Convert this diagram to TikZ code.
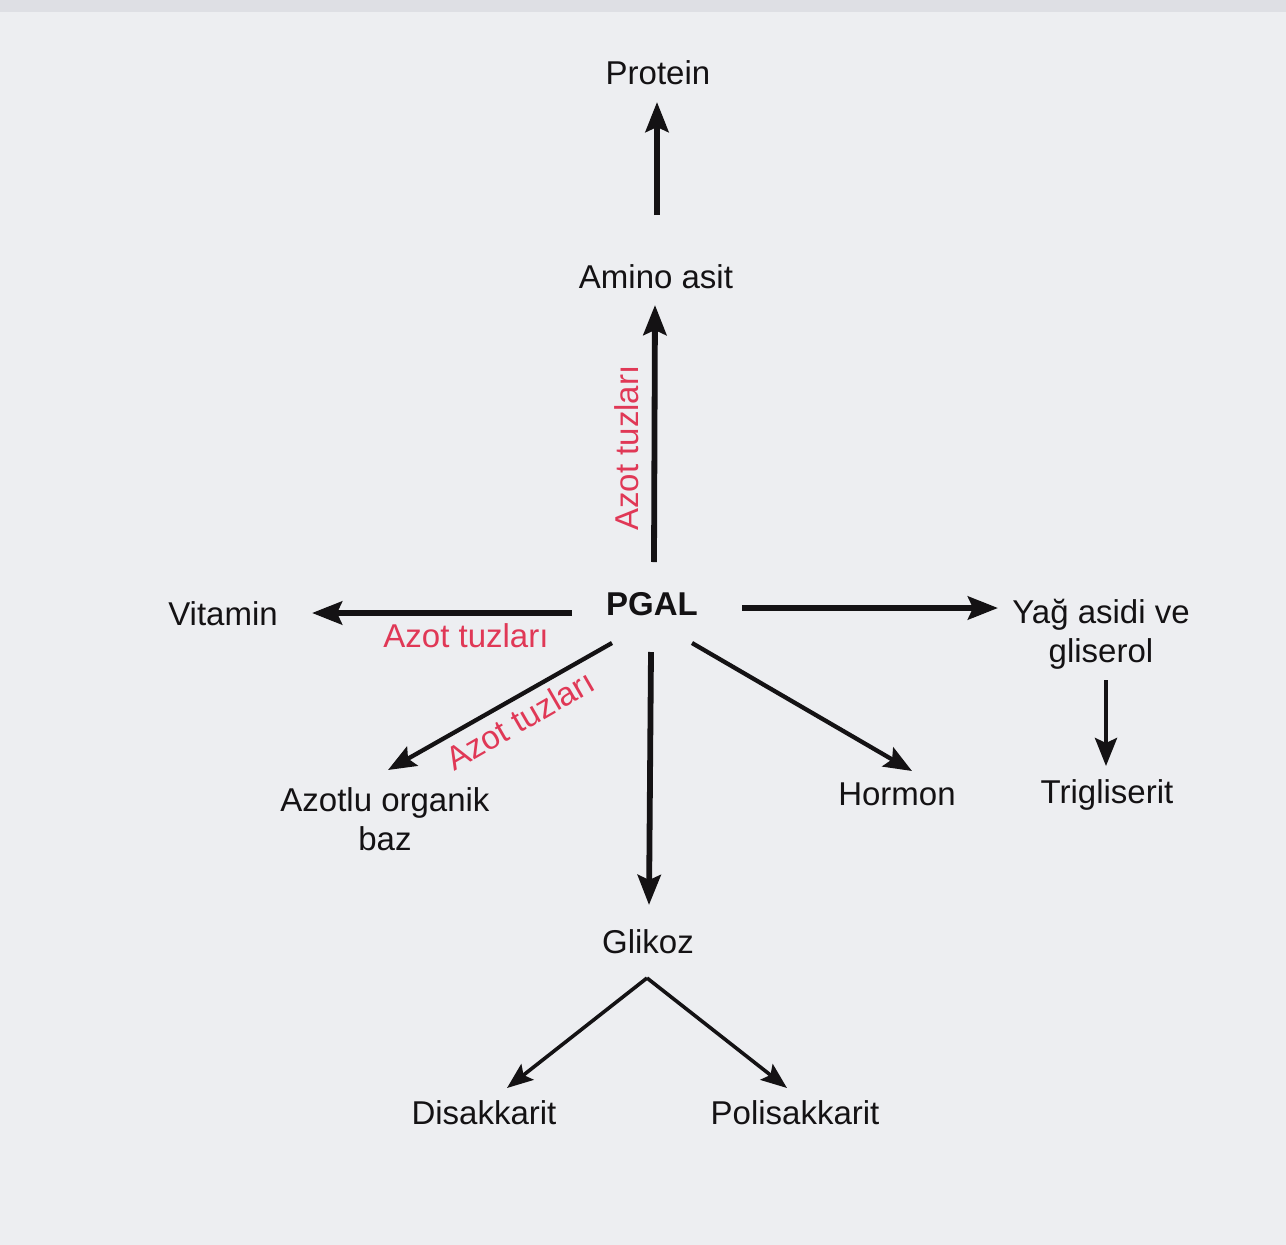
\documentclass[tikz,border=0pt]{standalone}
\usepackage{fontspec}
\setmainfont{Liberation Sans}
\usetikzlibrary{arrows.meta}
\definecolor{bg}{RGB}{237,238,241}
\definecolor{bgtop}{RGB}{222,223,228}
\definecolor{azot}{RGB}{224,56,86}
\definecolor{ink}{RGB}{20,18,20}
\tikzset{
  lbl/.style={inner sep=0pt, anchor=base, text=ink, font=\fontsize{33}{39}\selectfont},
  redlbl/.style={inner sep=0pt, text=azot, font=\fontsize{33}{39}\selectfont},
  arr/.style={draw=ink, line width=5.8pt, -{Stealth[length=30pt,width=23pt,inset=5pt]}},
  arrthin/.style={draw=ink, line width=4.3pt, -{Stealth[length=28pt,width=22pt,inset=5pt]}},
  arrbranch/.style={draw=ink, line width=3.6pt, -{Stealth[length=26pt,width=20pt,inset=5pt]}},
}
\begin{document}
\begin{tikzpicture}[x=1pt,y=-1pt]
\fill[bg] (0,0) rectangle (1286,1245);
\fill[bgtop] (0,0) rectangle (1286,12);
\useasboundingbox (0,0) rectangle (1286,1245);

\node[lbl] (protein) at (658,84) {Protein};
\node[lbl] (amino) at (656,288) {Amino asit};
\node[lbl, font=\fontsize{33}{39}\selectfont\bfseries] (pgal) at (652,615) {PGAL};
\node[lbl] (vitamin) at (223,625) {Vitamin};
\node[lbl, align=center] (yag) at (1101,662) {Yağ asidi ve\\gliserol};
\node[lbl] (trig) at (1107,803) {Trigliserit};
\node[lbl] (hormon) at (897,805) {Hormon};
\node[lbl, align=center] (azotlu) at (385,850) {Azotlu organik\\baz};
\node[lbl] (glikoz) at (648,953) {Glikoz};
\node[lbl] (disak) at (484,1124) {Disakkarit};
\node[lbl] (polisak) at (795,1124) {Polisakkarit};

\node[redlbl, rotate=90] (rv) at (627,448) {Azot tuzları};
\node[redlbl, anchor=base] (rh) at (466,647) {Azot tuzları};
\node[redlbl, rotate=30] (rd) at (520,720) {Azot tuzları};

\draw[arr] ([shift={(1,-73)}]amino.base) -- ([shift={(-1,18)}]protein.base);
\draw[arr] ([shift={(2,-53)}]pgal.base) -- ([shift={(-1,17)}]amino.base);
\draw[arr] ([shift={(-80,-2)}]pgal.base) -- ([shift={(89,-12)}]vitamin.base);
\draw[arr] ([shift={(90,-7)}]pgal.base) -- ([shift={(-103,-54)}]yag.base);
\draw[arr] ([shift={(-1,37)}]pgal.base) -- ([shift={(1,-48)}]glikoz.base);
\draw[arrthin] ([shift={(-40,28)}]pgal.base) -- ([shift={(3,-80)}]azotlu.base);
\draw[arrthin] ([shift={(40,28)}]pgal.base) -- ([shift={(15,-34)}]hormon.base);
\draw[arrthin] ([shift={(-1,-123)}]trig.base) -- ([shift={(-1,-37)}]trig.base);
\coordinate (apex) at ([shift={(-1,25)}]glikoz.base);
\draw[arrbranch] (apex) -- ([shift={(23,-36)}]disak.base);
\draw[arrbranch] (apex) -- ([shift={(-8,-36)}]polisak.base);
\end{tikzpicture}
\end{document}
